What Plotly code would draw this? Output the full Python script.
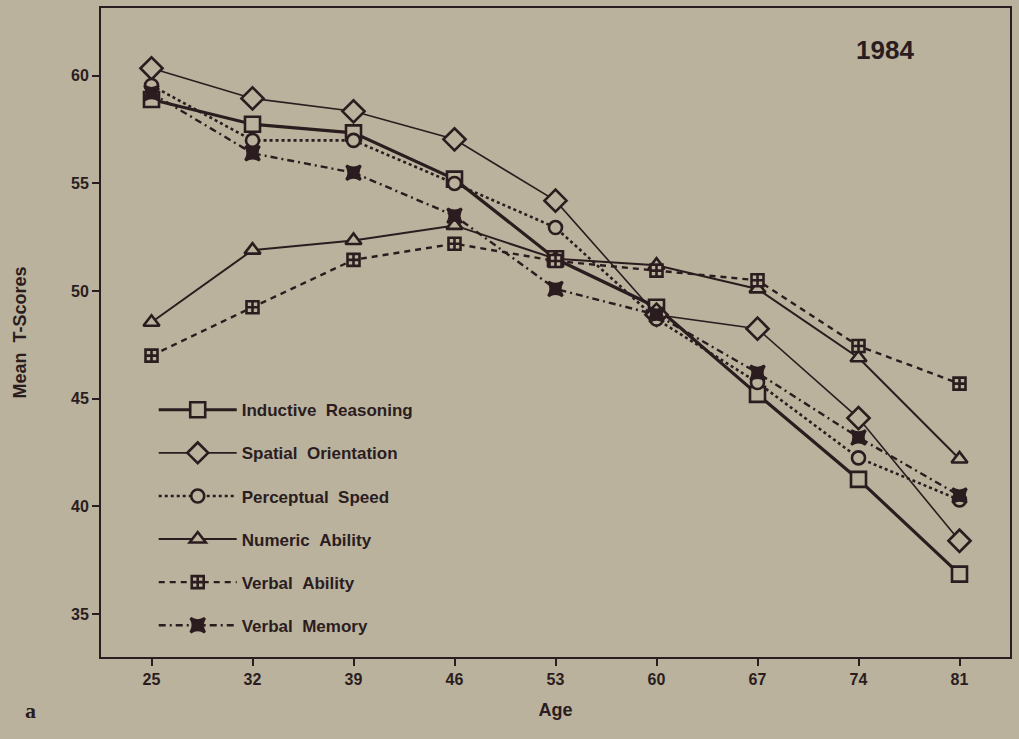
import plotly.graph_objects as go

# Mean T-scores by age group (1984 cross-section)
ages = [25, 32, 39, 46, 53, 60, 67, 74, 81]

inductive_reasoning = [58.9, 57.75, 57.35, 55.2, 51.5, 49.25, 45.2, 41.25, 36.85]
spatial_orientation = [60.35, 58.95, 58.35, 57.05, 54.2, 48.9, 48.25, 44.1, 38.4]
perceptual_speed = [59.55, 57.0, 57.0, 55.0, 52.95, 48.7, 45.75, 42.25, 40.3]
numeric_ability = [48.55, 51.9, 52.35, 53.05, 51.5, 51.2, 50.1, 46.9, 42.2]
verbal_ability = [47.0, 49.25, 51.45, 52.2, 51.4, 50.95, 50.5, 47.45, 45.7]
verbal_memory = [59.2, 56.4, 55.5, 53.5, 50.1, 48.9, 46.2, 43.2, 40.5]

y_ticks = [35, 40, 45, 50, 55, 60]

BG = "#bab29c"
INK = "#2b1d1f"
FONT = "Liberation Sans"

series = [
    ("Inductive Reasoning", inductive_reasoning, "solid", 3.2, "square", 15),
    ("Spatial Orientation", spatial_orientation, "solid", 1.6, "diamond", 17),
    ("Perceptual Speed", perceptual_speed, "dot", 2.6, "circle", 13),
    ("Numeric Ability", numeric_ability, "solid", 2.0, "triangle-up", 14),
    ("Verbal Ability", verbal_ability, "6px,5px", 2.4, "square-cross", 12),
    ("Verbal Memory", verbal_memory, "7px,4px,2px,4px", 2.4, "star-square", 13),
]

fig = go.Figure()
for i, (name, vals, dash, width, symbol, size) in enumerate(series):
    filled = symbol == "star-square"
    label = name.replace(" ", "&nbsp;&nbsp;")
    fig.add_trace(go.Scatter(
        x=ages, y=vals, name=f"<b>{label}</b>", mode="lines+markers",
        legendgroup=f"g{i}",
        line=dict(color=INK, width=width, dash=dash),
        marker=dict(symbol=symbol, size=size,
                    color=INK if filled else BG,
                    line=dict(color=INK, width=2.6)),
    ))

fig.add_annotation(x=0.8625, y=0.935, xref="paper", yref="paper",
                   xanchor="center", yanchor="middle",
                   text="<b>1984</b>", showarrow=False,
                   font=dict(family=FONT, size=26, color=INK))
fig.add_annotation(x=-0.078, y=-0.083, xref="paper", yref="paper",
                   xanchor="center", yanchor="middle",
                   text="<b>a</b>", showarrow=False,
                   font=dict(family="Liberation Serif", size=22, color=INK))

fig.update_layout(
    width=1019, height=739,
    margin=dict(l=101, r=9, t=6, b=82),
    paper_bgcolor=BG, plot_bgcolor=BG,
    font=dict(family=FONT, color=INK),
    showlegend=True,
    legend=dict(x=0.058, y=0.408, xanchor="left", yanchor="top",
                bgcolor="rgba(0,0,0,0)", tracegroupgap=18,
                font=dict(family=FONT, size=17, color=INK),
                itemwidth=78),
    xaxis=dict(
        range=[21.5, 84.5], tickvals=ages, ticktext=[f"<b>{a}</b>" for a in ages],
        showgrid=False, zeroline=False,
        showline=True, linecolor=INK, linewidth=2, mirror=True,
        ticks="outside", ticklen=7, tickwidth=2, tickcolor=INK,
        tickfont=dict(family=FONT, size=16, color=INK),
        title=dict(text="<b>Age</b>", font=dict(family=FONT, size=18, color=INK), standoff=16),
    ),
    yaxis=dict(
        range=[33.0, 63.15], tickvals=y_ticks, ticktext=[f"<b>{v}</b>" for v in y_ticks],
        showgrid=False, zeroline=False,
        showline=True, linecolor=INK, linewidth=2, mirror=True,
        ticks="outside", ticklen=7, tickwidth=2, tickcolor=INK,
        tickfont=dict(family=FONT, size=16, color=INK),
        title=dict(text="<b>Mean  T-Scores</b>", font=dict(family=FONT, size=18, color=INK), standoff=40),
    ),
)

fig.write_html("out.html")
